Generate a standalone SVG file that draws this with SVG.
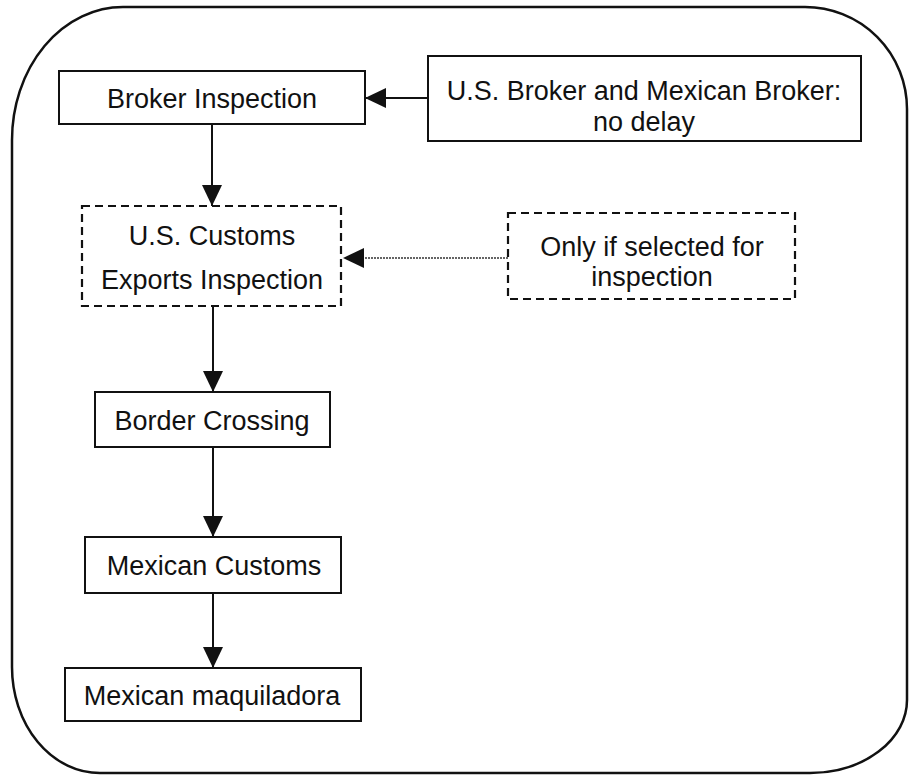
<svg xmlns="http://www.w3.org/2000/svg" width="911" height="776" viewBox="0 0 911 776">
<defs>
<style>
.box{fill:#fff;stroke:#111;stroke-width:2}
.dash{fill:#fff;stroke:#111;stroke-width:2.2;stroke-dasharray:8 5}
.lbl{font-family:"Liberation Sans",Arial,sans-serif;font-size:27px;fill:#111;text-anchor:middle}
.conn{stroke:#111;stroke-width:2;fill:none}
.dot{stroke:#333;stroke-width:1.6;fill:none;stroke-dasharray:2 1}
</style>
<marker id="ah" viewBox="0 0 21 20" refX="21" refY="10" markerWidth="21" markerHeight="20" markerUnits="userSpaceOnUse" orient="auto">
<path d="M0,0 L21,10 L0,20 Z" fill="#111"/>
</marker>
</defs>
<rect width="911" height="776" fill="#fff"/>
<path id="frame" d="M123,7 L805,7 A102,102 0 0 1 907,109 L907,700 A97,73 0 0 1 810,773 L100,773 A88,106 0 0 1 12,667 L12,140 A111,133 0 0 1 123,7 Z" fill="none" stroke="#111" stroke-width="2.5"/>
<g id="connectors">
<line class="conn" x1="428" y1="98" x2="365" y2="98" marker-end="url(#ah)"/>
<line class="conn" x1="212" y1="124" x2="212" y2="206" marker-end="url(#ah)"/>
<line class="dot" x1="508" y1="258" x2="362" y2="258"/>
<path d="M343,258 L364,248 L364,268 Z" fill="#111"/>
<line class="conn" x1="213" y1="307" x2="213" y2="392" marker-end="url(#ah)"/>
<line class="conn" x1="213" y1="447" x2="213" y2="537" marker-end="url(#ah)"/>
<line class="conn" x1="213" y1="593" x2="213" y2="668" marker-end="url(#ah)"/>
</g>
<g id="broker-inspection">
<rect class="box" x="59" y="71" width="306" height="53"/>
<text class="lbl" x="212" y="108">Broker Inspection</text>
</g>
<g id="us-mexican-broker">
<rect class="box" x="428" y="56" width="433" height="85"/>
<text class="lbl" x="644" y="100">U.S. Broker and Mexican Broker:</text>
<text class="lbl" x="644" y="131">no delay</text>
</g>
<g id="us-customs">
<rect class="dash" x="82" y="206" width="259" height="100"/>
<text class="lbl" x="212" y="245">U.S. Customs</text>
<text class="lbl" x="212" y="289">Exports Inspection</text>
</g>
<g id="only-if-selected">
<rect class="dash" x="508" y="213" width="287" height="86"/>
<text class="lbl" x="652" y="256">Only if selected for</text>
<text class="lbl" x="652" y="286">inspection</text>
</g>
<g id="border-crossing">
<rect class="box" x="95" y="392" width="235" height="55"/>
<text class="lbl" x="212" y="430">Border Crossing</text>
</g>
<g id="mexican-customs">
<rect class="box" x="85" y="537" width="256" height="56"/>
<text class="lbl" x="214" y="575">Mexican Customs</text>
</g>
<g id="mexican-maquiladora">
<rect class="box" x="65" y="668" width="296" height="53"/>
<text class="lbl" x="212" y="705">Mexican maquiladora</text>
</g>
</svg>
